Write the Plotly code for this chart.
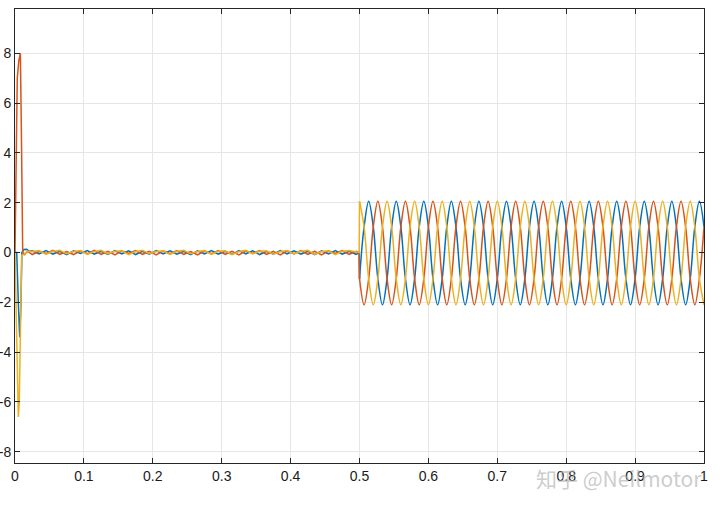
import numpy as np
import plotly.graph_objects as go

# ---------------- data ----------------
# start-up transient (time in s, value)
blue_t0 = [0, 0.0025, 0.0048, 0.0068, 0.0085, 0.0100, 0.013, 0.017, 0.021]
blue_v0 = [0, 0.0, -2.0, -3.4, -2.2, 0.0, 0.12, 0.13, 0.05]
orange_t0 = [0, 0.0015, 0.0033, 0.0055, 0.0078, 0.0094, 0.0112, 0.014, 0.018]
orange_v0 = [0, 3.5, 7.0, 7.7, 8.0, 4.5, 0.0, -0.08, 0.06]
yellow_t0 = [0, 0.0015, 0.0030, 0.0048, 0.0062, 0.0080, 0.0097, 0.013, 0.018]
yellow_v0 = [0, -2.5, -5.2, -6.6, -6.0, -3.0, -0.12, -0.07, 0.05]

# small ripple between the transient and t = 0.5 s (sampled every 0.01 s)
t_noise = list(np.round(np.arange(0.025, 0.5, 0.01), 3))
blue_noise = [0.07, -0.05, 0.08, -0.06, 0.05, -0.08, 0.07, -0.04, 0.08, -0.06,
              0.05, -0.07, 0.08, -0.05, 0.07, -0.08, 0.05, -0.06, 0.08, -0.05,
              0.07, -0.06, 0.05, -0.08, 0.07, -0.05, 0.08, -0.06, 0.05, -0.07,
              0.08, -0.05, 0.07, -0.08, 0.05, -0.06, 0.08, -0.05, 0.07, -0.06,
              0.05, -0.08, 0.07, -0.05, 0.08, -0.06, 0.05, -0.07]
orange_noise = [-0.08, 0.05, -0.04, 0.09, -0.07, 0.04, -0.08, 0.07, -0.05, 0.09,
                -0.07, 0.05, -0.09, 0.07, -0.04, 0.08, -0.07, 0.05, -0.09, 0.07,
                -0.05, 0.08, -0.07, 0.04, -0.09, 0.07, -0.05, 0.08, -0.07, 0.05,
                -0.09, 0.07, -0.04, 0.08, -0.07, 0.05, -0.09, 0.07, -0.05, 0.08,
                -0.07, 0.05, -0.09, 0.07, -0.04, 0.08, -0.07, 0.05]
yellow_noise = [0.04, 0.08, -0.07, 0.05, 0.09, -0.05, 0.04, 0.08, -0.07, 0.04,
                0.09, -0.05, 0.05, 0.07, -0.08, 0.04, 0.09, -0.05, 0.04, 0.07,
                -0.07, 0.05, 0.09, -0.05, 0.04, 0.08, -0.07, 0.05, 0.07, -0.08,
                0.04, 0.09, -0.05, 0.05, 0.07, -0.07, 0.04, 0.08, -0.05, 0.05,
                0.09, -0.07, 0.04, 0.07, -0.08, 0.05, 0.08, 0.04]

# steady-state section after t = 0.5 s, sampled every 1/6 of a 0.04 s period
t_ss_start, t_ss_end, n_ss = 0.5, 1.0, 76
yellow_ss = [
    2.06, 1.03, -1.05, -2.1, -1.05, 1.03,
    2.06, 1.03, -1.05, -2.1, -1.05, 1.03,
    2.06, 1.03, -1.05, -2.1, -1.05, 1.03,
    2.06, 1.03, -1.05, -2.1, -1.05, 1.03,
    2.06, 1.03, -1.05, -2.1, -1.05, 1.03,
    2.06, 1.03, -1.05, -2.1, -1.05, 1.03,
    2.06, 1.03, -1.05, -2.1, -1.05, 1.03,
    2.06, 1.03, -1.05, -2.1, -1.05, 1.03,
    2.06, 1.03, -1.05, -2.1, -1.05, 1.03,
    2.06, 1.03, -1.05, -2.1, -1.05, 1.03,
    2.06, 1.03, -1.05, -2.1, -1.05, 1.03,
    2.06, 1.03, -1.05, -2.1, -1.05, 1.03,
    2.06, 1.03, -1.05, -2.1]
blue_ss = [
    -1.05, 1.03, 2.06, 1.03, -1.05, -2.1,
    -1.05, 1.03, 2.06, 1.03, -1.05, -2.1,
    -1.05, 1.03, 2.06, 1.03, -1.05, -2.1,
    -1.05, 1.03, 2.06, 1.03, -1.05, -2.1,
    -1.05, 1.03, 2.06, 1.03, -1.05, -2.1,
    -1.05, 1.03, 2.06, 1.03, -1.05, -2.1,
    -1.05, 1.03, 2.06, 1.03, -1.05, -2.1,
    -1.05, 1.03, 2.06, 1.03, -1.05, -2.1,
    -1.05, 1.03, 2.06, 1.03, -1.05, -2.1,
    -1.05, 1.03, 2.06, 1.03, -1.05, -2.1,
    -1.05, 1.03, 2.06, 1.03, -1.05, -2.1,
    -1.05, 1.03, 2.06, 1.03, -1.05, -2.1,
    -1.05, 1.03, 2.06, 1.03]
orange_ss = [
    -1.05, -2.1, -1.05, 1.03, 2.06, 1.03,
    -1.05, -2.1, -1.05, 1.03, 2.06, 1.03,
    -1.05, -2.1, -1.05, 1.03, 2.06, 1.03,
    -1.05, -2.1, -1.05, 1.03, 2.06, 1.03,
    -1.05, -2.1, -1.05, 1.03, 2.06, 1.03,
    -1.05, -2.1, -1.05, 1.03, 2.06, 1.03,
    -1.05, -2.1, -1.05, 1.03, 2.06, 1.03,
    -1.05, -2.1, -1.05, 1.03, 2.06, 1.03,
    -1.05, -2.1, -1.05, 1.03, 2.06, 1.03,
    -1.05, -2.1, -1.05, 1.03, 2.06, 1.03,
    -1.05, -2.1, -1.05, 1.03, 2.06, 1.03,
    -1.05, -2.1, -1.05, 1.03, 2.06, 1.03,
    -1.05, -2.1, -1.05, 1.03]

x_ticks = [0, 0.1, 0.2, 0.3, 0.4, 0.5, 0.6, 0.7, 0.8, 0.9, 1]
y_ticks = [-8, -6, -4, -2, 0, 2, 4, 6, 8]
watermark = "知乎 @Neilmotor"

# ---------------- figure ----------------
t_ss = list(np.linspace(t_ss_start, t_ss_end, n_ss))
colors = {"blue": "#0072BD", "orange": "#D95319", "yellow": "#EDB120"}
series = [
    ("blue", blue_t0, blue_v0, blue_noise, blue_ss),
    ("orange", orange_t0, orange_v0, orange_noise, orange_ss),
    ("yellow", yellow_t0, yellow_v0, yellow_noise, yellow_ss),
]

fig = go.Figure()
for name, t0, v0, vn, vss in series:
    col = colors[name]
    tx = list(t0) + t_noise + [0.4995, t_ss_start]
    vy = list(v0) + vn + [0.0, vss[0]]
    fig.add_trace(go.Scatter(x=tx, y=vy, mode="lines", showlegend=False,
                             line=dict(color=col, width=1.5), hoverinfo="skip"))
    fig.add_trace(go.Scatter(x=t_ss, y=vss, mode="lines", showlegend=False,
                             line=dict(color=col, width=1.5, shape="spline", smoothing=1),
                             hoverinfo="skip"))

axis_common = dict(showgrid=True, gridcolor="#e6e6e6", gridwidth=1, zeroline=False,
                   showline=True, linecolor="#262626", linewidth=1, mirror="ticks",
                   ticks="inside", ticklen=5, tickcolor="#262626", tickwidth=1,
                   tickfont=dict(family="Liberation Sans, Arial", size=14, color="#1a1a1a"),
                   automargin=False)

fig.update_layout(
    width=720, height=509,
    margin=dict(l=15, r=16, t=9, b=46),
    paper_bgcolor="white", plot_bgcolor="white",
    xaxis=dict(range=[0, 1], tickvals=x_ticks, ticktext=[str(v) for v in x_ticks], **axis_common),
    yaxis=dict(range=[-8.45, 9.78], tickvals=y_ticks, ticktext=[str(v) for v in y_ticks], **axis_common),
    annotations=[dict(text=watermark, xref="paper", yref="paper", x=0.877, y=-0.034,
                      showarrow=False, xanchor="center", yanchor="middle",
                      font=dict(family="Noto Sans CJK SC", size=21, color="rgba(175,175,175,0.65)"))],
)

fig.write_html("out.html", config={"displayModeBar": False},
               post_script="document.body.style.margin='0';")
